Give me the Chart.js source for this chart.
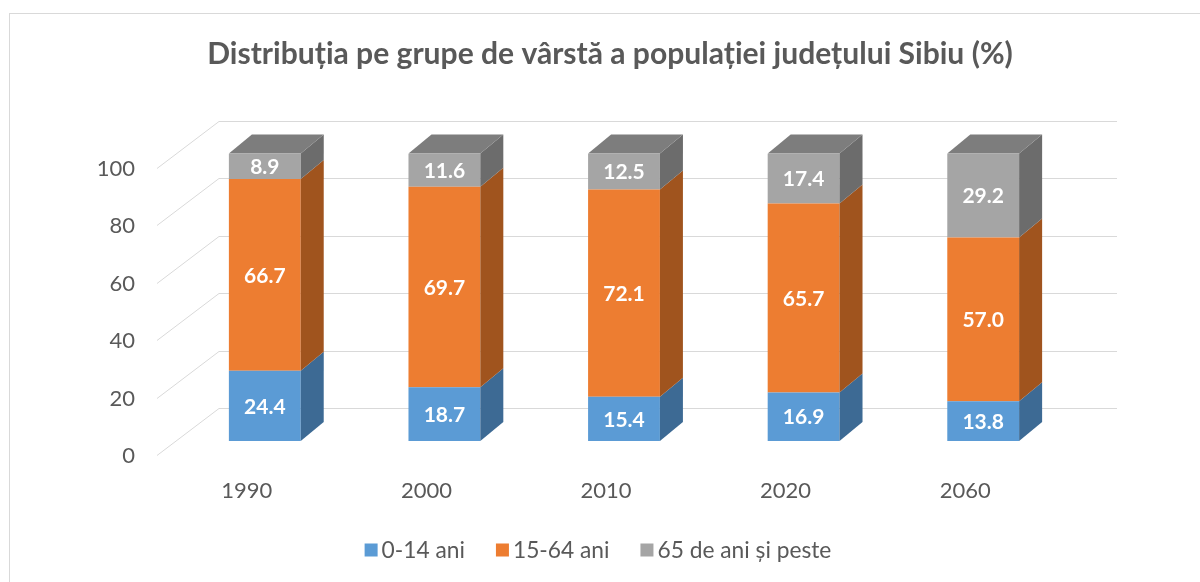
<!DOCTYPE html>
<html>
<head>
<meta charset="utf-8">
<script src="https://cdn.jsdelivr.net/npm/chart.js@4.4.0/dist/chart.umd.min.js"></script>
<style>
body { margin: 0; background: #fff; }
</style>
</head>
<body>
<canvas id="chart" width="1200" height="582"></canvas>
<script>
const years = ['1990', '2000', '2010', '2020', '2060'];
const age0to14 = [24.4, 18.7, 15.4, 16.9, 13.8];
const age15to64 = [66.7, 69.7, 72.1, 65.7, 57.0];
const age65plus = [8.9, 11.6, 12.5, 17.4, 29.2];
const yTicks = [0, 20, 40, 60, 80, 100];
const seriesNames = ['0-14 ani', '15-64 ani', '65 de ani și peste'];
const titleText = 'Distribuția pe grupe de vârstă a populației județului Sibiu (%)';

const fontFamily = 'Lato, "Open Sans", sans-serif';
const textColor = '#595959';
const gridColor = '#D9D9D9';
const frontColors = ['#5B9BD5', '#ED7D31', '#A5A5A5'];
const sideColors = ['#3D6A94', '#A0541E', '#6C6C6C'];
const topColor = '#7D7D7D';

// 3d offsets, relative to the front plane of the bars
const depth = { dx: 23, dy: -19 };
const floorEdge = { dx: -18, dy: 14 };
const backWall = { dx: 44, dy: -33 };

function fitFont(ctx, text, weight, size, width) {
    ctx.font = weight + ' ' + size + 'px ' + fontFamily;
    const w = ctx.measureText(text).width;
    return size * width / w;
}

const fake3d = {
    id: 'fake3d',
    beforeDatasetsDraw(chart) {
        const ctx = chart.ctx;
        const area = chart.chartArea;
        const yScale = chart.scales.y;
        ctx.save();

        // outer frame
        ctx.strokeStyle = gridColor;
        ctx.lineWidth = 1;
        ctx.strokeRect(9.5, 13.5, 1300, 700);

        // walls + y ticks
        ctx.fillStyle = textColor;
        ctx.font = '22px ' + fontFamily;
        ctx.textAlign = 'right';
        ctx.textBaseline = 'middle';
        yTicks.forEach(v => {
            const py = Math.round(yScale.getPixelForValue(v)) + 0.5;
            ctx.beginPath();
            ctx.moveTo(area.left + floorEdge.dx, py + floorEdge.dy);
            ctx.lineTo(area.left + backWall.dx, py + backWall.dy);
            ctx.lineTo(area.right + backWall.dx, py + backWall.dy);
            ctx.stroke();
            ctx.fillText(String(v), 135, py + floorEdge.dy);
        });

        // category labels
        ctx.textAlign = 'center';
        const meta = chart.getDatasetMeta(0);
        meta.data.forEach((bar, i) => {
            ctx.fillText(years[i], bar.x + floorEdge.dx, 491);
        });

        // title
        const tSize = fitFont(ctx, titleText, 'bold', 24, 806);
        ctx.font = 'bold ' + tSize + 'px ' + fontFamily;
        ctx.fillText(titleText, 610, 54);
        ctx.restore();
    },
    afterDatasetsDraw(chart) {
        const ctx = chart.ctx;
        const n = chart.data.datasets.length;
        ctx.save();
        for (let d = 0; d < n; d++) {
            chart.getDatasetMeta(d).data.forEach(bar => {
                const p = bar.getProps(['x', 'y', 'base', 'width'], true);
                const xl = p.x - p.width / 2, xr = p.x + p.width / 2;
                // side face
                ctx.fillStyle = sideColors[d];
                ctx.beginPath();
                ctx.moveTo(xr, p.y);
                ctx.lineTo(xr + depth.dx, p.y + depth.dy);
                ctx.lineTo(xr + depth.dx, p.base + depth.dy);
                ctx.lineTo(xr, p.base);
                ctx.closePath();
                ctx.fill();
                // top face only on the last segment
                if (d === n - 1) {
                    ctx.fillStyle = topColor;
                    ctx.beginPath();
                    ctx.moveTo(xl, p.y);
                    ctx.lineTo(xl + depth.dx, p.y + depth.dy);
                    ctx.lineTo(xr + depth.dx, p.y + depth.dy);
                    ctx.lineTo(xr, p.y);
                    ctx.closePath();
                    ctx.fill();
                }
            });
        }
        // value labels
        ctx.fillStyle = '#FFFFFF';
        ctx.font = 'bold 21px ' + fontFamily;
        ctx.textAlign = 'center';
        ctx.textBaseline = 'middle';
        for (let d = 0; d < n; d++) {
            const values = chart.data.datasets[d].data;
            chart.getDatasetMeta(d).data.forEach((bar, i) => {
                const p = bar.getProps(['x', 'y', 'base'], true);
                ctx.fillText(values[i].toFixed(1), p.x, (p.y + p.base) / 2 + 1);
            });
        }
        ctx.restore();
    },
    afterDraw(chart) {
        // legend
        const ctx = chart.ctx;
        ctx.save();
        const lSize = fitFont(ctx, seriesNames[2], 'normal', 20, 174);
        ctx.font = lSize + 'px ' + fontFamily;
        ctx.textBaseline = 'middle';
        ctx.textAlign = 'left';
        const box = 13, gap = 4, spacing = 31;
        const widths = seriesNames.map(s => ctx.measureText(s).width);
        let total = widths.reduce((a, b) => a + b, 0) + seriesNames.length * (box + gap) + spacing * (seriesNames.length - 1);
        let x = 598 - total / 2;
        const y = 551;
        seriesNames.forEach((s, i) => {
            ctx.fillStyle = frontColors[i];
            ctx.fillRect(x, y - box / 2 - 1, box, box);
            x += box + gap;
            ctx.fillStyle = textColor;
            ctx.fillText(s, x, y);
            x += widths[i] + spacing;
        });
        ctx.restore();
    }
};

const ctx = document.getElementById('chart');
new Chart(ctx, {
    type: 'bar',
    data: {
        labels: years,
        datasets: [
            { label: seriesNames[0], data: age0to14, backgroundColor: frontColors[0] },
            { label: seriesNames[1], data: age15to64, backgroundColor: frontColors[1] },
            { label: seriesNames[2], data: age65plus, backgroundColor: frontColors[2] }
        ]
    },
    options: {
        responsive: false,
        animation: false,
        layout: { padding: { left: 175, right: 127, top: 153.5, bottom: 141 } },
        datasets: { bar: { categoryPercentage: 1, barPercentage: 0.4, borderWidth: 0 } },
        plugins: {
            legend: { display: false },
            title: { display: false },
            tooltip: { enabled: false }
        },
        scales: {
            x: { display: false, stacked: true },
            y: { display: false, stacked: true, min: 0, max: 100 }
        }
    },
    plugins: [fake3d]
});
</script>
</body>
</html>
